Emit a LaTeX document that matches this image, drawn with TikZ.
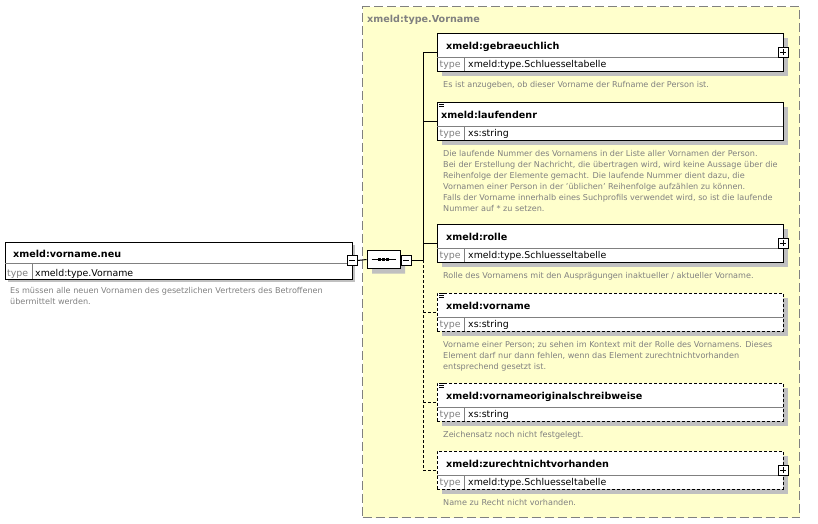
\documentclass[tikz,border=0pt]{standalone}
\usepackage{fontspec}
\setmainfont{DejaVu Sans}
\usetikzlibrary{shadows,shapes.misc}
\definecolor{yel}{RGB}{255,255,204}
\definecolor{shd}{RGB}{192,192,192}
\definecolor{gr}{RGB}{128,128,128}
\definecolor{doc}{RGB}{128,128,128}
\tikzset{
 boxbase/.style={anchor=north west, inner sep=0pt, outer sep=0pt, draw=black, fill=white, line width=1pt},
 elbox/.style={boxbase, minimum width=346pt, minimum height=38pt, drop shadow={shadow xshift=5pt, shadow yshift=-5pt, fill=shd, opacity=1}},
 optl/.style={dash pattern=on 3pt off 2pt},
 solidl/.style={},
 ttl/.style={anchor=base west, inner sep=0pt, font=\fontsize{9.6}{11}\selectfont\bfseries},
 tylbl/.style={anchor=base west, inner sep=0pt, text=gr, font=\fontsize{9.4}{11}\selectfont},
 tyval/.style={anchor=base west, inner sep=0pt, font=\fontsize{9.4}{11}\selectfont},
 desc/.style={anchor=north west, inner sep=0pt, text=doc, align=left, font=\fontsize{8.1}{11}\selectfont},
 btn/.style={draw=black, fill=white, line width=1pt, minimum size=10pt, inner sep=0pt},
 sepl/.style={line width=0.8pt, gr},
 conn/.style={line width=1pt, black},
}
\newcommand\dtext[1]{\rule{0pt}{8pt}#1}
\newcommand\xelem[7]{%
  \node[elbox,#5] (#1) at (437,#2) {};
  \draw[sepl] ([yshift=-24pt]#1.north west) -- ([yshift=-24pt]#1.north east);
  \draw[sepl] ([xshift=27pt]#1.south west) -- ([xshift=27pt,yshift=14pt]#1.south west);
  \node[ttl] (#1-t) at ([xshift=#6pt,yshift=-16pt]#1.north west) {#3};
  \node[tylbl] (#1-l) at ([xshift=2.5pt,yshift=3.5pt]#1.south west) {type};
  \node[tyval] (#1-v) at ([xshift=31pt,yshift=3.5pt]#1.south west) {#4};
  \node[desc] (#1-d) at ([xshift=6pt,yshift=-8pt]#1.south west) {\dtext{#7}};
}
\newcommand\plusbtn[2]{%
  \node[btn] (#1) at (#2) {};
  \draw[line width=1pt] ([xshift=-3pt]#1.center) -- ([xshift=3pt]#1.center);
  \draw[line width=1pt] ([yshift=-3pt]#1.center) -- ([yshift=3pt]#1.center);
}
\newcommand\minusbtn[2]{%
  \node[btn] (#1) at (#2) {};
  \draw[line width=1pt] ([xshift=-3pt]#1.center) -- ([xshift=3pt]#1.center);
}
\newcommand\docicon[1]{%
  \foreach \k in {0.5,2.5,4.5}
    \draw[line width=1pt] ([xshift=2pt,yshift=-\k pt]#1.north west) -- ([xshift=7pt,yshift=-\k pt]#1.north west);
}
\begin{document}
\begin{tikzpicture}[x=1pt,y=-1pt]
\useasboundingbox (0,0) rectangle (818,523);
% container
\node[anchor=north west, inner sep=0pt, draw=gr, fill=yel, dash pattern=on 9pt off 4pt, line width=1pt, minimum width=437pt, minimum height=511pt] (cont) at (362,6) {};
\node[ttl, text=gr] (cont-t) at (367,22) {xmeld:type.Vorname};

% root element
\node[boxbase, minimum width=347pt, minimum height=37pt, drop shadow={shadow xshift=3pt, shadow yshift=-3pt, fill=shd, opacity=1}] (root) at (5,242) {};
\draw[sepl] ([yshift=-21pt]root.north west) -- ([yshift=-21pt]root.north east);
\draw[sepl] ([xshift=27pt]root.south west) -- ([xshift=27pt,yshift=16pt]root.south west);
\node[ttl] (root-t) at (13,257) {xmeld:vorname.neu};
\node[tylbl] (root-l) at (7,276) {type};
\node[tyval] (root-v) at (35,276) {xmeld:type.Vorname};
\node[desc] (root-d) at (10,285) {\dtext{Es müssen alle neuen Vornamen des gesetzlichen Vertreters des Betroffenen\\übermittelt werden.}};
\minusbtn{root-b}{root.east}

% sequence compositor
\node[chamfered rectangle, chamfered rectangle xsep=4pt, chamfered rectangle ysep=4pt, draw=black, fill=white, line width=1pt, minimum width=33pt, minimum height=18pt, inner sep=0pt, drop shadow={shadow xshift=5pt, shadow yshift=-5pt, fill=shd, opacity=1}] (seq) at (383.5,259.5) {};
\draw[line width=1pt] ([xshift=-12pt]seq.center) -- ([xshift=12pt]seq.center);
\foreach \dx in {-4,0,4}
  \fill ([xshift=\dx pt]seq.center) +(-1.5,-1.5) rectangle +(1.5,1.5);
\minusbtn{seq-b}{406,260}
\coordinate (jn) at (423,260);

% children
\xelem{g}{33}{xmeld:gebraeuchlich}{xmeld:type.Schluesseltabelle}{solidl}{9}{Es ist anzugeben, ob dieser Vorname der Rufname der Person ist.}
\plusbtn{g-b}{g.east}
\xelem{l}{102}{xmeld:laufendenr}{xs:string}{solidl}{4}{Die laufende Nummer des Vornamens in der Liste aller Vornamen der Person.\\Bei der Erstellung der Nachricht, die übertragen wird, wird keine Aussage über die\\Reihenfolge der Elemente gemacht. Die laufende Nummer dient dazu, die\\Vornamen einer Person in der 'üblichen' Reihenfolge aufzählen zu können.\\Falls der Vorname innerhalb eines Suchprofils verwendet wird, so ist die laufende\\Nummer auf * zu setzen.}
\docicon{l}
\xelem{r}{224}{xmeld:rolle}{xmeld:type.Schluesseltabelle}{solidl}{9}{Rolle des Vornamens mit den Ausprägungen inaktueller / aktueller Vorname.}
\plusbtn{r-b}{r.east}
\xelem{v}{293}{xmeld:vorname}{xs:string}{optl}{9}{Vorname einer Person; zu sehen im Kontext mit der Rolle des Vornamens. Dieses\\Element darf nur dann fehlen, wenn das Element zurechtnichtvorhanden\\entsprechend gesetzt ist.}
\docicon{v}
\xelem{o}{383}{xmeld:vornameoriginalschreibweise}{xs:string}{optl}{9}{Zeichensatz noch nicht festgelegt.}
\docicon{o}
\xelem{z}{451}{xmeld:zurechtnichtvorhanden}{xmeld:type.Schluesseltabelle}{optl}{9}{Name zu Recht nicht vorhanden.}
\plusbtn{z-b}{z.east}

% connectors
\draw[conn] (root-b.east) -- (seq.west);
\draw[conn] (seq-b.east) -- (jn);
\draw[conn] (jn |- g.west) -- (jn);
\draw[conn, optl] (jn) -- (jn |- z.west);
\draw[conn] (jn |- g.west) -- (g.west);
\draw[conn] (jn |- l.west) -- (l.west);
\draw[conn] (jn |- r.west) -- (r.west);
\draw[conn, optl] (jn |- v.west) -- (v.west);
\draw[conn, optl] (jn |- o.west) -- (o.west);
\draw[conn, optl] (jn |- z.west) -- (z.west);
\end{tikzpicture}
\end{document}
